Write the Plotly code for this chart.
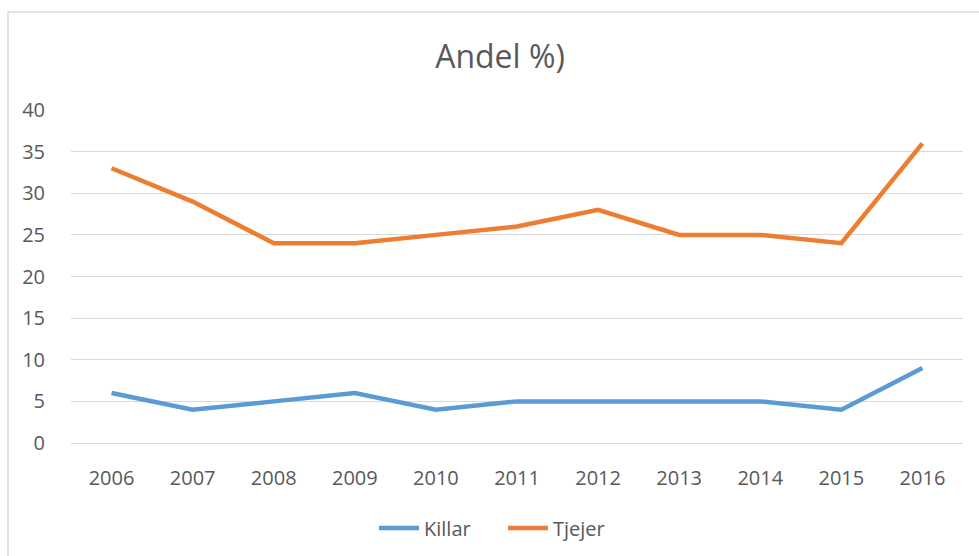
import plotly.graph_objects as go

years = ["2006", "2007", "2008", "2009", "2010", "2011", "2012", "2013", "2014", "2015", "2016"]
killar = [6, 4, 5, 6, 4, 5, 5, 5, 5, 4, 9]
tjejer = [33, 29, 24, 24, 25, 26, 28, 25, 25, 24, 36]

W, H = 979, 556
L, R, T, B = 71, 16, 110, 113
pw = W - L - R
ph = H - T - B

def px(x):
    return (x - L) / pw

def py(y):
    return (H - B - y) / ph

FONT = "Open Sans, Lato, sans-serif"
GREY = "#595959"

fig = go.Figure()
fig.add_trace(go.Scatter(x=years, y=killar, name="Killar", mode="lines",
                         line=dict(color="#5B9BD5", width=4.5)))
fig.add_trace(go.Scatter(x=years, y=tjejer, name="Tjejer", mode="lines",
                         line=dict(color="#ED7D31", width=4.5)))

fig.update_layout(
    width=W, height=H,
    margin=dict(l=L, r=R, t=T, b=B, autoexpand=False),
    paper_bgcolor="white", plot_bgcolor="white",
    font=dict(family=FONT, color=GREY, size=20),
    title=dict(text="Andel %)", xref="container", x=500 / W, xanchor="center",
               yref="container", y=1 - 57 / H, yanchor="middle",
               font=dict(size=32, color=GREY, family=FONT)),
    showlegend=True,
    legend=dict(orientation="h", x=px(374), xanchor="left", y=py(528), yanchor="middle",
                font=dict(size=20, color=GREY, family=FONT), itemwidth=40,
                entrywidth=74, entrywidthmode="pixels"),
    xaxis=dict(type="category", range=[-0.5, len(years) - 0.5], showgrid=False,
               showline=False, ticks="outside", ticklen=17, tickcolor="rgba(0,0,0,0)",
               tickfont=dict(size=20, color=GREY, family=FONT)),
    yaxis=dict(range=[0, 40], dtick=5, showgrid=True, gridcolor="#D9D9D9", gridwidth=1,
               zeroline=True, zerolinecolor="#D9D9D9", zerolinewidth=1,
               showline=False, ticks="outside", ticklen=21, tickcolor="rgba(0,0,0,0)",
               tickfont=dict(size=20, color=GREY, family=FONT)),
    shapes=[dict(type="rect", xref="paper", yref="paper",
                 x0=px(8), x1=px(990), y0=py(12), y1=py(570),
                 line=dict(color="#D9D9D9", width=1.5), fillcolor="rgba(0,0,0,0)", layer="below")],
)

fig.write_html("out.html", config={"displayModeBar": False},
               post_script="document.body.style.margin='0';document.body.style.overflow='hidden';")
